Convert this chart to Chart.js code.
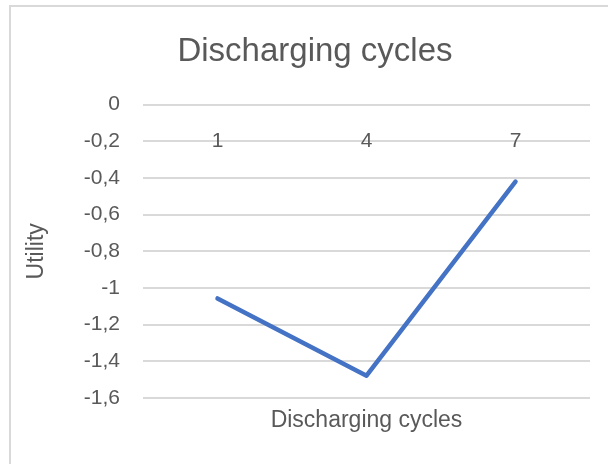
<!DOCTYPE html>
<html>
<head>
<meta charset="utf-8">
<script src="https://cdn.jsdelivr.net/npm/chart.js@4"></script>
<style>
  html, body { margin: 0; padding: 0; background: #fff; }
  #wrap { width: 608px; height: 464px; }
</style>
</head>
<body>
<div id="wrap"><canvas id="chart"></canvas></div>
<script>
// data
const cycles = ['1', '4', '7'];
const utility = [-1.057, -1.478, -0.42];
const yTicks = [0, -0.2, -0.4, -0.6, -0.8, -1, -1.2, -1.4, -1.6];

const textColor = '#595959';
const gridColor = '#d9d9d9';
const fontFamily = "'Liberation Sans', Arial, sans-serif";

// comma decimal like the original
function fmt(v) {
    return String(Number(v.toFixed(1))).replace('.', ',');
}

// light frame around the chart (only top and left edges are visible)
const frame = {
    id: 'frame',
    afterDraw(chart) {
        const ctx = chart.ctx;
        ctx.save();
        ctx.strokeStyle = gridColor;
        ctx.lineWidth = 2;
        ctx.strokeRect(10, 6, 800, 800);
        ctx.restore();
    }
};

document.addEventListener('DOMContentLoaded', function() {
    const ctx = document.getElementById('chart');
    new Chart(ctx, {
        type: 'line',
        data: {
            labels: cycles,
            datasets: [{
                label: 'Utility',
                data: utility,
                borderColor: '#4472c4',
                borderWidth: 4.5,
                pointRadius: 0,
                tension: 0,
                borderCapStyle: 'round',
                borderJoinStyle: 'round'
            }]
        },
        options: {
            responsive: true,
            maintainAspectRatio: false,
            animation: false,
            // left padding also pushes the centred title right, like the original
            layout: { padding: { left: 40, right: 18, top: 0, bottom: 0 } },
            plugins: {
                legend: { display: false },
                tooltip: { enabled: false },
                title: {
                    display: true,
                    text: 'Discharging cycles',
                    color: textColor,
                    font: { family: fontFamily, size: 33, weight: 'normal' },
                    padding: { top: 32, bottom: 33 }
                }
            },
            scales: {
                x: {
                    type: 'category',
                    offset: true,
                    grid: { display: false },
                    border: { display: false },
                    ticks: { display: false },
                    title: {
                        display: true,
                        text: 'Discharging cycles',
                        color: textColor,
                        font: { family: fontFamily, size: 23 },
                        padding: { top: 0, bottom: 30 }
                    },
                    afterFit: s => { s.height = 66; }
                },
                x2: {
                    type: 'category',
                    offset: true,
                    position: { y: 0 },
                    grid: { display: false },
                    border: { display: false },
                    ticks: {
                        color: textColor,
                        font: { family: fontFamily, size: 21 },
                        padding: 16
                    }
                },
                y: {
                    min: -1.6,
                    max: 0,
                    afterBuildTicks: s => { s.ticks = yTicks.map(v => ({ value: v })); },
                    grid: { color: gridColor, lineWidth: 2, drawTicks: false },
                    border: { display: false },
                    ticks: {
                        color: textColor,
                        font: { family: fontFamily, size: 21 },
                        padding: 23,
                        callback: v => fmt(v)
                    },
                    title: {
                        display: true,
                        text: 'Utility',
                        color: textColor,
                        font: { family: fontFamily, size: 23 },
                        padding: { top: -17, bottom: 0 }
                    },
                    afterFit: s => { s.width = 103; }
                }
            }
        },
        plugins: [frame]
    });
});
</script>
</body>
</html>
